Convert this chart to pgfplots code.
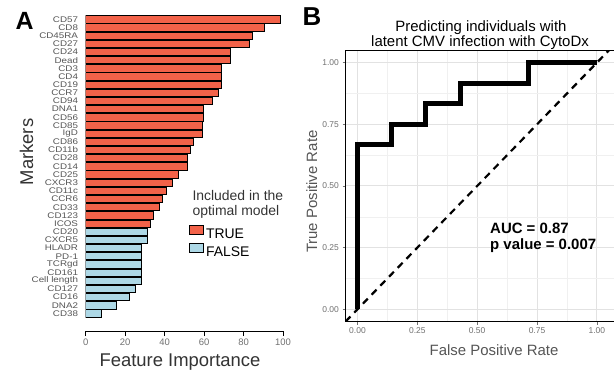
\documentclass[border=0pt]{standalone}
\usepackage{fontspec}
\setmainfont{Liberation Sans}
\newfontfamily\labfont[FakeStretch=1.2]{Liberation Sans}
\usepackage{pgfplots}
\pgfplotsset{compat=1.18}
\definecolor{barred}{HTML}{F26249}
\definecolor{barblue}{HTML}{ADD8E6}
\definecolor{tickgrey}{HTML}{707070}
\definecolor{labgrey}{HTML}{555555}
\definecolor{darkgrey}{HTML}{333333}
\definecolor{gridmaj}{HTML}{E2E2E2}
\definecolor{gridmin}{HTML}{F0F0F0}
\begin{document}
\begin{tikzpicture}[x=1bp,y=1bp]
\begin{axis}[
  at={(85.7bp,41bp)}, anchor=south west, scale only axis,
  width=197.3bp, height=315.8bp,
  xmin=0, xmax=100, ymin=-2.15, ymax=36.5,
  xbar, bar width=7.3bp, bar shift=0pt,
  axis x line=bottom, axis y line=left,
  axis line style={-}, x axis line style={black, line width=0.8bp}, y axis line style={draw=none},
  xtick={0,20,40,60,80,100}, xticklabels={0,20,40,60,80,100},
  xtick style={black, line width=0.8bp}, tick align=outside, major tick length=5bp,
  ytick={0,...,36},
  yticklabels={CD38,DNA2,CD16,CD127,Cell length,CD161,TCRgd,PD-1,HLADR,CXCR5,CD20,ICOS,CD123,CD33,CCR6,CD11c,CXCR3,CD25,CD14,CD28,CD11b,CD86,IgD,CD85,CD56,DNA1,CD94,CCR7,CD19,CD4,CD3,Dead,CD24,CD27,CD45RA,CD8,CD57},
  ytick style={draw=none},
  yticklabel style={font=\labfont\fontsize{8.2}{8}\selectfont, text=labgrey, inner sep=0pt, anchor=east, xshift=-2.5bp},
  xticklabel style={font=\fontsize{9.5}{10}\selectfont, text=tickgrey, inner sep=0pt, anchor=north, yshift=-3bp},
  legend style={at={(axis description cs:0.5236,0.336)}, anchor=north west, draw=none, fill=none,
    font=\fontsize{14}{14}\selectfont, inner sep=0pt, row sep=1bp, cells={anchor=west},
    /tikz/every even column/.append style={column sep=5bp}},
  legend cell align=left,
]
\addplot[xbar, bar shift=0pt, fill=barred, draw=black, line width=0.8bp,
  legend image code/.code={\draw[fill=barred, draw=black, line width=0.8bp] (0bp,0bp) rectangle (14bp,9bp);}]
  coordinates {(98.5,36)(90.5,35)(84.5,34)(83,33)(73.5,32)(73.5,31)(68.7,30)(68.7,29)(68.7,28)(67.2,27)(64,26)(59.5,25)(59.5,24)(59.3,23)(59.1,22)(54.5,21)(53,20)(51.5,19)(51.5,18)(46.9,17)(43.7,16)(40.7,15)(39,14)(37.5,13)(34.3,12)(32.8,11)};
\addlegendentry{TRUE}
\addplot[xbar, bar shift=0pt, fill=barblue, draw=black, line width=0.8bp,
  legend image code/.code={\draw[fill=barblue, draw=black, line width=0.8bp] (0bp,0bp) rectangle (14bp,9bp);}]
  coordinates {(31.2,10)(31.2,9)(28.2,8)(28.2,7)(28.2,6)(28.2,5)(28.2,4)(25.1,3)(22,2)(15.5,1)(7.8,0)};
\addlegendentry{FALSE}
\end{axis}

\begin{axis}[
  at={(345.5bp,50.4bp)}, anchor=south west, scale only axis,
  width=270.5bp, height=271.2bp,
  xmin=-0.05, xmax=1.08, ymin=-0.05, ymax=1.05,
  axis line style={black, line width=0.8bp},
  xtick={0,0.25,0.5,0.75,1}, xticklabels={0.00,0.25,0.50,0.75,1.00},
  ytick={0,0.25,0.5,0.75,1}, yticklabels={0.00,0.25,0.50,0.75,1.00},
  minor xtick={0.125,0.375,0.625,0.875}, minor ytick={0.125,0.375,0.625,0.875},
  grid=both, major grid style={gridmaj, line width=1bp}, minor grid style={gridmin, line width=0.6bp},
  tick pos=left, tick align=outside, major tick length=3bp, minor tick length=0pt,
  tick style={tickgrey, line width=0.6bp},
  tick label style={font=\fontsize{8.5}{10}\selectfont, text=tickgrey},
  xticklabel style={inner sep=0pt, anchor=north, yshift=-3bp},
  yticklabel style={inner sep=0pt, anchor=east, xshift=-3.5bp},
]
\addplot[black, line width=2.2bp, dash pattern=on 7bp off 5.5bp] coordinates {(-0.05,-0.05)(1.05,1.05)};
\addplot[black, line width=5bp, line join=miter] coordinates {(0,0)(0,0.667)(0.143,0.667)(0.143,0.75)(0.286,0.75)(0.286,0.833)(0.429,0.833)(0.429,0.917)(0.714,0.917)(0.714,1)(1,1)};
\end{axis}

\node[anchor=base west, font=\bfseries\fontsize{25}{25}\selectfont] at (12bp,342bp) {A};
\node[anchor=base west, font=\bfseries\fontsize{26}{26}\selectfont] at (299bp,346bp) {B};
\node[rotate=90, anchor=base, font=\fontsize{18.5}{20}\selectfont, text=darkgrey] at (33bp,220bp) {Markers};
\node[anchor=base, font=\fontsize{18.5}{20}\selectfont, text=darkgrey] at (180bp,5.3bp) {Feature Importance};
\node[anchor=base west, font=\fontsize{14}{14}\selectfont, text=darkgrey] at (189bp,171bp) {Included in the};
\node[anchor=base west, font=\fontsize{14}{14}\selectfont, text=darkgrey] at (189bp,156bp) {optimal model};
\node[anchor=base, font=\fontsize{15}{15}\selectfont] at (481bp,340.3bp) {Predicting individuals with};
\node[anchor=base, font=\fontsize{15}{15}\selectfont] at (480bp,325.3bp) {latent CMV infection with CytoDx};
\node[rotate=90, anchor=base, font=\fontsize{15}{15}\selectfont, text=labgrey] at (317bp,180.3bp) {True Positive Rate};
\node[anchor=base, font=\fontsize{15}{15}\selectfont, text=labgrey] at (494bp,17bp) {False Positive Rate};
\node[anchor=base west, font=\bfseries\fontsize{15}{15}\selectfont] at (486.7bp,138.7bp) {AUC = 0.87};
\node[anchor=base west, font=\bfseries\fontsize{15}{15}\selectfont] at (486.7bp,122bp) {p value = 0.007};
\pgfresetboundingbox
\path[use as bounding box] (0bp,0bp) rectangle (614bp,372bp);
\end{tikzpicture}
\end{document}
